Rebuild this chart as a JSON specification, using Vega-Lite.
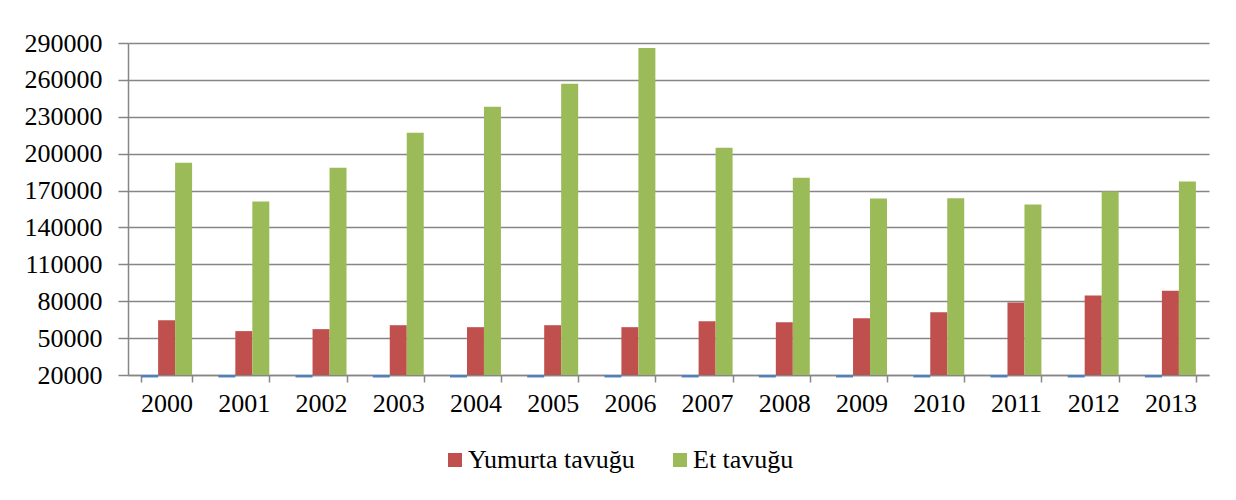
{
  "$schema": "https://vega.github.io/schema/vega-lite/v6.json",
  "width": 1081,
  "height": 332,
  "autosize": {"type": "none"},
  "padding": {"left": 128, "top": 43, "right": 27, "bottom": 125},
  "background": "white",
  "config": {
    "view": {"stroke": null},
    "font": "'Liberation Serif', 'DejaVu Serif', serif"
  },
  "data": {
    "values": [
      {"year": "2000", "series": "Diğer", "value": 18000},
      {"year": "2001", "series": "Diğer", "value": 18000},
      {"year": "2002", "series": "Diğer", "value": 18000},
      {"year": "2003", "series": "Diğer", "value": 18000},
      {"year": "2004", "series": "Diğer", "value": 18000},
      {"year": "2005", "series": "Diğer", "value": 18000},
      {"year": "2006", "series": "Diğer", "value": 18000},
      {"year": "2007", "series": "Diğer", "value": 18000},
      {"year": "2008", "series": "Diğer", "value": 18000},
      {"year": "2009", "series": "Diğer", "value": 18000},
      {"year": "2010", "series": "Diğer", "value": 18000},
      {"year": "2011", "series": "Diğer", "value": 18000},
      {"year": "2012", "series": "Diğer", "value": 18000},
      {"year": "2013", "series": "Diğer", "value": 18000},
      {"year": "2000", "series": "Yumurta tavuğu", "value": 64600},
      {"year": "2001", "series": "Yumurta tavuğu", "value": 55700},
      {"year": "2002", "series": "Yumurta tavuğu", "value": 57300},
      {"year": "2003", "series": "Yumurta tavuğu", "value": 60500},
      {"year": "2004", "series": "Yumurta tavuğu", "value": 58900},
      {"year": "2005", "series": "Yumurta tavuğu", "value": 60500},
      {"year": "2006", "series": "Yumurta tavuğu", "value": 58900},
      {"year": "2007", "series": "Yumurta tavuğu", "value": 63800},
      {"year": "2008", "series": "Yumurta tavuğu", "value": 63000},
      {"year": "2009", "series": "Yumurta tavuğu", "value": 66200},
      {"year": "2010", "series": "Yumurta tavuğu", "value": 71100},
      {"year": "2011", "series": "Yumurta tavuğu", "value": 79000},
      {"year": "2012", "series": "Yumurta tavuğu", "value": 84700},
      {"year": "2013", "series": "Yumurta tavuğu", "value": 88500},
      {"year": "2000", "series": "Et tavuğu", "value": 192700},
      {"year": "2001", "series": "Et tavuğu", "value": 161000},
      {"year": "2002", "series": "Et tavuğu", "value": 188600},
      {"year": "2003", "series": "Et tavuğu", "value": 217000},
      {"year": "2004", "series": "Et tavuğu", "value": 238100},
      {"year": "2005", "series": "Et tavuğu", "value": 256800},
      {"year": "2006", "series": "Et tavuğu", "value": 285900},
      {"year": "2007", "series": "Et tavuğu", "value": 204900},
      {"year": "2008", "series": "Et tavuğu", "value": 180500},
      {"year": "2009", "series": "Et tavuğu", "value": 163500},
      {"year": "2010", "series": "Et tavuğu", "value": 163800},
      {"year": "2011", "series": "Et tavuğu", "value": 158700},
      {"year": "2012", "series": "Et tavuğu", "value": 169200},
      {"year": "2013", "series": "Et tavuğu", "value": 177300}
    ]
  },
  "mark": {"type": "bar", "clip": false},
  "encoding": {
    "x": {
      "field": "year",
      "type": "nominal",
      "scale": {"paddingInner": 0.34, "paddingOuter": 0.17},
      "axis": {
        "title": null,
        "labelAngle": 0,
        "labelFont": "'Liberation Serif', 'DejaVu Serif', serif",
        "labelFontSize": 26,
        "labelColor": "black",
        "labelPadding": 8,
        "tickBand": "extent",
        "tickSize": 7,
        "tickColor": "#868686",
        "tickWidth": 1.5,
        "domainColor": "#868686",
        "domainWidth": 1.5,
        "grid": false
      }
    },
    "xOffset": {
      "field": "series",
      "type": "nominal",
      "sort": ["Diğer", "Yumurta tavuğu", "Et tavuğu"],
      "scale": {"paddingInner": 0, "paddingOuter": 0}
    },
    "y": {
      "field": "value",
      "type": "quantitative",
      "scale": {"domain": [20000, 290000], "zero": false, "nice": false},
      "axis": {
        "title": null,
        "values": [20000, 50000, 80000, 110000, 140000, 170000, 200000, 230000, 260000, 290000],
        "format": "d",
        "labelFont": "'Liberation Serif', 'DejaVu Serif', serif",
        "labelFontSize": 26,
        "labelColor": "black",
        "labelPadding": 16,
        "tickSize": 10,
        "tickColor": "#868686",
        "tickWidth": 1.5,
        "domainColor": "#868686",
        "domainWidth": 1.5,
        "grid": true,
        "gridColor": "#868686",
        "gridWidth": 1.5
      }
    },
    "y2": {"datum": 20000},
    "color": {
      "field": "series",
      "type": "nominal",
      "scale": {
        "domain": ["Diğer", "Yumurta tavuğu", "Et tavuğu"],
        "range": ["#4F81BD", "#C0504D", "#9BBB59"]
      },
      "legend": {
        "title": null,
        "values": ["Yumurta tavuğu", "Et tavuğu"],
        "orient": "none",
        "direction": "horizontal",
        "legendX": 314,
        "legendY": 404,
        "padding": 0,
        "symbolType": "square",
        "symbolSize": 196,
        "symbolStrokeWidth": 0,
        "labelFont": "'Liberation Serif', 'DejaVu Serif', serif",
        "labelFontSize": 26,
        "labelLimit": 0,
        "labelColor": "black",
        "labelOffset": 0,
        "columnPadding": 32
      }
    }
  }
}
